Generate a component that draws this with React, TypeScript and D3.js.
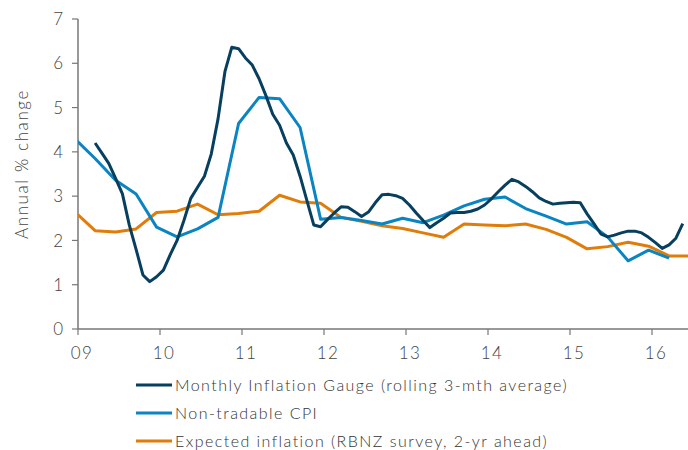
import * as d3 from "d3";

// month index 0 = Jan 2009
const yearTicks = [9, 10, 11, 12, 13, 14, 15, 16];
const yTicks = [0, 1, 2, 3, 4, 5, 6, 7];

// Monthly Inflation Gauge, monthly from Apr 2009
const migStart = 3;
const migValues = [
  4.2, 3.97, 3.74, 3.4, 3.05, 2.35, 1.8, 1.22, 1.07, 1.18, 1.33, 1.68,
  2.0, 2.45, 2.95, 3.2, 3.45, 3.95, 4.75, 5.81, 6.36, 6.33, 6.12, 5.96,
  5.65, 5.27, 4.85, 4.6, 4.2, 3.93, 3.45, 2.9, 2.35, 2.31, 2.47, 2.62,
  2.76, 2.75, 2.65, 2.54, 2.64, 2.85, 3.03, 3.04, 3.01, 2.95, 2.8, 2.62,
  2.45, 2.29, 2.4, 2.5, 2.62, 2.63, 2.63, 2.66, 2.71, 2.8, 2.94, 3.1,
  3.25, 3.38, 3.32, 3.22, 3.1, 2.96, 2.88, 2.82, 2.84, 2.85, 2.86, 2.85,
  2.6, 2.38, 2.15, 2.08, 2.12, 2.17, 2.21, 2.21, 2.17, 2.07, 1.95, 1.82,
  1.9, 2.05, 2.38,
];

// Non-tradable CPI, quarterly from Q1 2009
const nonTradable = [
  4.3, 3.85, 3.36, 3.05, 2.3, 2.08, 2.26, 2.52, 4.64, 5.23, 5.2, 4.55,
  2.48, 2.52, 2.45, 2.37, 2.5, 2.4, 2.57, 2.78, 2.93, 2.98, 2.72, 2.55,
  2.37, 2.42, 2.08, 1.54, 1.78, 1.6,
];

// RBNZ survey expected inflation, 2-yr ahead, quarterly from Q1 2009
const expected = [
  2.65, 2.22, 2.19, 2.26, 2.63, 2.66, 2.82, 2.58, 2.61, 2.66, 3.02, 2.87,
  2.84, 2.52, 2.43, 2.33, 2.27, 2.17, 2.07, 2.37, 2.35, 2.33, 2.37, 2.25,
  2.07, 1.81, 1.86, 1.96, 1.87, 1.65, 1.65,
];

const legendLabels = [
  "Monthly Inflation Gauge (rolling 3-mth average)",
  "Non-tradable CPI",
  "Expected inflation (RBNZ survey, 2-yr ahead)",
];

const colors = ["#073f5f", "#0a84c2", "#e07d0a"];

const width = 688;
const height = 450;
const margin = { top: 19, right: 0, bottom: 121, left: 78 };
const font = "Lato, 'Open Sans', sans-serif";

interface Pt {
  m: number;
  v: number;
}

const App = () => {
  const plotW = width - margin.left - margin.right;
  const plotH = height - margin.top - margin.bottom;

  // ticks sit half a month after the data's month positions
  const x = d3.scaleLinear().domain([0.5, 0.5 + plotW / (82 / 12)]).range([0, plotW]);
  const y = d3.scaleLinear().domain([0, 7]).range([plotH, 0]);

  const line = d3
    .line<Pt>()
    .x((d) => x(d.m))
    .y((d) => y(d.v));

  const series: Pt[][] = [
    migValues.map((v, i) => ({ m: migStart + i, v })),
    nonTradable.map((v, i) => ({ m: i * 3, v })),
    expected.map((v, i) => ({ m: i * 3, v })),
  ];

  const tickM = (yr: number) => (yr - 9) * 12 + 0.5;
  const axisColor = "#777";
  const textColor = "#444";

  return (
    <svg width={width} height={height} style={{ position: "absolute", left: 0, top: 0 }}>
      <defs>
        <clipPath id="plot">
          <rect x={0} y={-10} width={plotW} height={plotH + 20} />
        </clipPath>
      </defs>
      <g transform={`translate(${margin.left},${margin.top})`}>
        {/* y axis */}
        <line x1={0} x2={0} y1={0} y2={plotH} stroke={axisColor} strokeWidth={1.5} />
        {yTicks.map((t) => (
          <g key={t} transform={`translate(0,${y(t)})`}>
            <line x1={-6} x2={0} stroke={axisColor} strokeWidth={1.2} />
            <text
              x={-15}
              dy="0.36em"
              textAnchor="end"
              fontFamily={font}
              fontWeight={300}
              fontSize={17}
              fill={textColor}
            >
              {t}
            </text>
          </g>
        ))}
        {/* x axis */}
        <line x1={0} x2={plotW} y1={plotH} y2={plotH} stroke={axisColor} strokeWidth={1.5} />
        {yearTicks.map((yr) => (
          <g key={yr} transform={`translate(${x(tickM(yr))},${plotH})`}>
            <line y1={0} y2={6} stroke={axisColor} strokeWidth={1.2} />
            <text
              x={4}
              y={30}
              textAnchor="middle"
              fontFamily={font}
              fontWeight={300}
              fontSize={17}
              letterSpacing={1.5}
              fill={textColor}
            >
              {String(yr).padStart(2, "0")}
            </text>
          </g>
        ))}
        <g clipPath="url(#plot)">
          {[2, 1, 0].map((i) => (
            <path
              key={i}
              d={line(series[i]) || ""}
              fill="none"
              stroke={colors[i]}
              strokeWidth={3}
              strokeLinejoin="round"
            />
          ))}
        </g>
      </g>
      <text
        transform={`translate(28,${margin.top + plotH / 2 - 10}) rotate(-90)`}
        textAnchor="middle"
        fontFamily={font}
        fontWeight={300}
        fontSize={17}
        letterSpacing={1.6}
        fill={textColor}
      >
        Annual % change
      </text>
      {legendLabels.map((label, i) => (
        <g key={label} transform={`translate(136,${385 + i * 28})`}>
          <line x1={0} x2={36} stroke={colors[i]} strokeWidth={3} />
          <text
            x={39}
            dy="0.35em"
            fontFamily={font}
            fontWeight={300}
            fontSize={16}
            letterSpacing={1.45}
            fill="#333"
          >
            {label}
          </text>
        </g>
      ))}
    </svg>
  );
};

export default App;
